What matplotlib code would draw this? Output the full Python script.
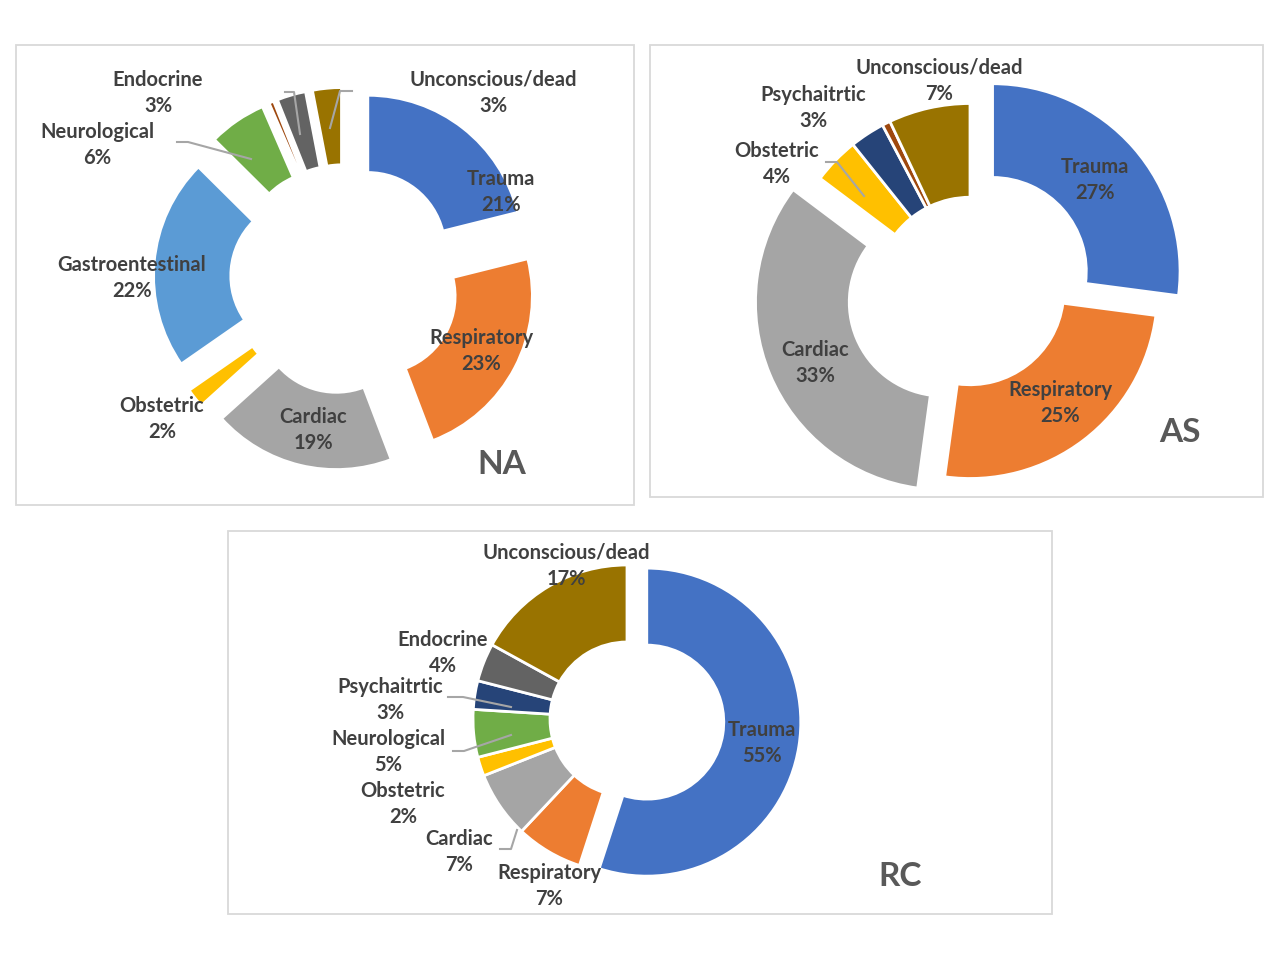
import matplotlib
matplotlib.use('Agg')
import matplotlib.pyplot as plt
from matplotlib.patches import Rectangle
from matplotlib.lines import Line2D

plt.rcParams['font.family'] = ['Lato', 'DejaVu Sans']

# data (percent of calls per category, clockwise from 12 o'clock)
categories = ['Trauma', 'Respiratory', 'Cardiac', 'Obstetric', 'Gastroentestinal',
              'Neurological', 'Psychaitrtic', 'Other', 'Endocrine', 'Unconscious/dead']
colors = ['#4472C4', '#ED7D31', '#A5A5A5', '#FFC000', '#5B9BD5',
          '#70AD47', '#264478', '#9E480E', '#636363', '#997300']
na_values = [21, 23, 19, 2, 22, 6, 0, 0.5, 3, 3]
as_values = [27, 25, 33, 4, 0, 0, 3, 0.7, 0, 7]
rc_values = [55, 7, 7, 2, 0, 5, 3, 0, 4, 17]
unlabeled = ['Other']

W, H = 1280, 960
TXT = '#404040'

# layout in pixels (x right, y down)
panels = [
    dict(tag='NA', values=na_values, center=(345, 279), radius=154.5,
         explode={c: 0.24 for c in categories},
         box=(16, 45, 634, 505), tag_pos=(502, 465),
         label_pos={'Trauma': (501, 192), 'Respiratory': (481, 351), 'Cardiac': (313, 430),
                    'Obstetric': (162, 419), 'Gastroentestinal': (132, 278),
                    'Neurological': (97, 145), 'Endocrine': (158, 93),
                    'Unconscious/dead': (493, 93)},
         leaders=[[(177, 142), (188, 142), (251, 159)],
                  [(285, 92), (294, 92), (300, 134)],
                  [(352, 91), (340, 91), (330, 128)]]),
    dict(tag='AS', values=as_values, center=(970, 291), radius=187.5,
         explode={'Trauma': 0.16, 'Cardiac': 0.156},
         box=(650, 45, 1263, 497), tag_pos=(1180, 433),
         label_pos={'Trauma': (1095, 180), 'Respiratory': (1060, 403), 'Cardiac': (815, 363),
                    'Obstetric': (777, 164), 'Psychaitrtic': (813, 108),
                    'Unconscious/dead': (939, 81)},
         leaders=[[(826, 162), (837, 162), (864, 196)]]),
    dict(tag='RC', values=rc_values, center=(627, 719), radius=154,
         explode={'Trauma': 0.13},
         box=(228, 531, 1052, 914), tag_pos=(900, 876),
         label_pos={'Trauma': (762, 743), 'Respiratory': (549, 886), 'Cardiac': (459, 852),
                    'Obstetric': (403, 804), 'Neurological': (388, 752),
                    'Psychaitrtic': (390, 700), 'Endocrine': (443, 653),
                    'Unconscious/dead': (566, 566)},
         leaders=[[(448, 697), (463, 697), (511, 707)],
                  [(453, 751), (464, 751), (511, 735)],
                  [(500, 849), (511, 849), (517, 830)]]),
]

fig = plt.figure(figsize=(12.8, 9.6), dpi=100)
fig.patch.set_facecolor('white')


def fx(x, y):
    return x / W, 1 - y / H


for p in panels:
    x0, y0, x1, y1 = p['box']
    fig.add_artist(Rectangle(fx(x0, y1), (x1 - x0) / W, (y1 - y0) / H,
                             transform=fig.transFigure, fill=False,
                             edgecolor='#D9D9D9', linewidth=1.3, zorder=-1))

    cx, cy = p['center']
    R = p['radius']
    S = 230
    ax = fig.add_axes([(cx - S) / W, 1 - (cy + S) / H, 2 * S / W, 2 * S / H])
    keep = [i for i, v in enumerate(p['values']) if v > 0]
    vals = [p['values'][i] for i in keep]
    cols = [colors[i] for i in keep]
    expl = [p['explode'].get(categories[i], 0) for i in keep]
    ax.pie(vals, colors=cols, explode=expl, startangle=90, counterclock=False,
           radius=1, wedgeprops=dict(width=0.5, edgecolor='white', linewidth=2))
    ax.set_xlim(-S / R, S / R)
    ax.set_ylim(-S / R, S / R)
    ax.set_aspect('equal')
    ax.axis('off')

    for i in keep:
        name = categories[i]
        if name in unlabeled:
            continue
        lx, ly = p['label_pos'][name]
        fig.text(*fx(lx, ly), f"{name}\n{p['values'][i]:.0f}%", ha='center', va='center',
                 fontsize=14.5, fontweight='bold', color=TXT, linespacing=1.38, zorder=5)

    for pts in p['leaders']:
        xs = [fx(a, b)[0] for a, b in pts]
        ys = [fx(a, b)[1] for a, b in pts]
        fig.add_artist(Line2D(xs, ys, transform=fig.transFigure, color='#A6A6A6',
                              linewidth=1.5, zorder=4))

    fig.text(*fx(*p['tag_pos']), p['tag'], ha='center', va='center', fontsize=24,
             fontweight='bold', color='#595959', zorder=5)

fig.savefig('out.png', dpi=100, facecolor='white')
